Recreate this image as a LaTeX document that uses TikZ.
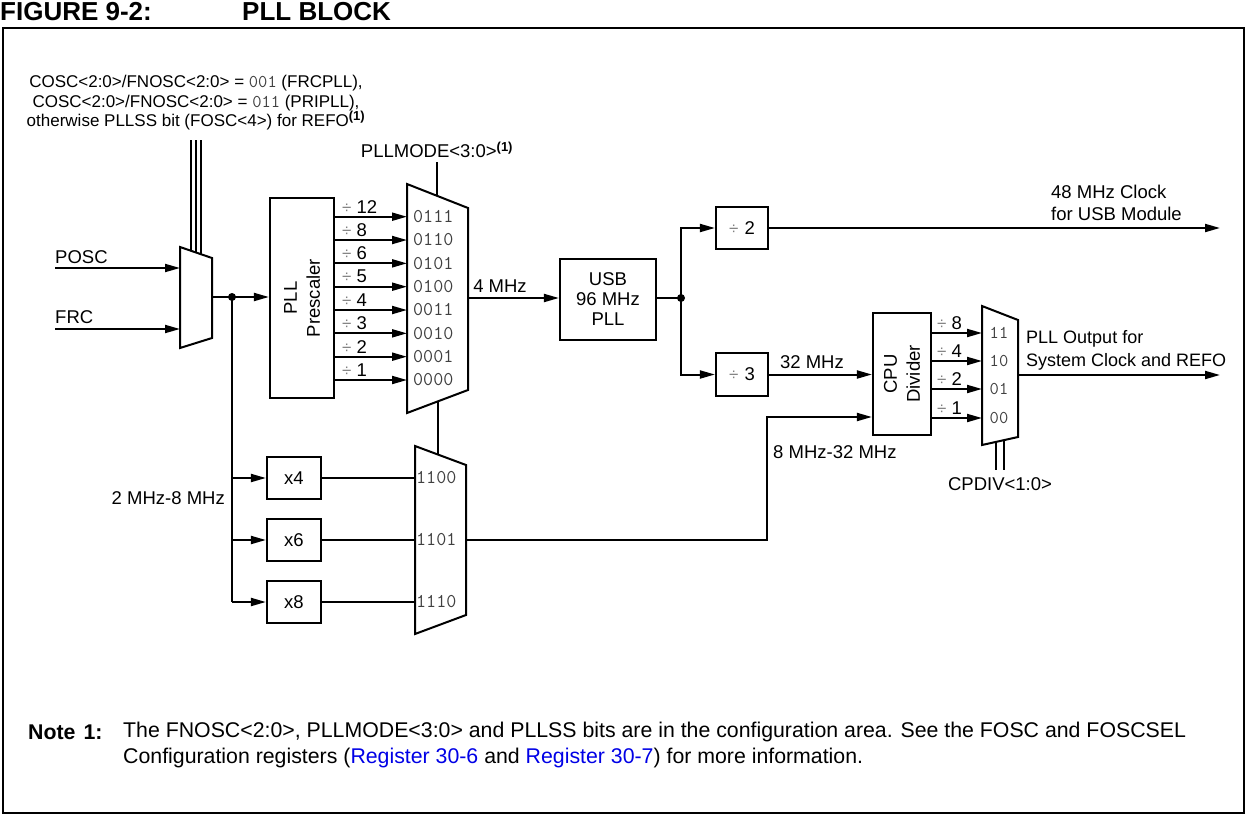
\documentclass[tikz,border=0pt]{standalone}
\usepackage{fontspec}
\setmainfont{Liberation Sans}
\usetikzlibrary{arrows.meta,calc}
\definecolor{linkblue}{RGB}{0,0,230}
\newcommand\dv{{\color{black!50}\fontsize{17}{17}\selectfont ÷}}
\newcommand\supone{\textsuperscript{\bfseries\fontsize{13}{13}\selectfont (1)}}
\begin{document}
\begin{tikzpicture}[x=1pt,y=-1pt,
  every node/.style={font=\fontsize{18.5}{22}\selectfont, inner sep=0pt},
  wire/.style={line width=2pt},
  arr/.style={wire,-{Triangle[length=15pt,width=8pt]}},
  blk/.style={draw,line width=2.2pt},
  mono/.style={font=\ttfamily\fontsize{19.5}{22}\selectfont, text=black!75},
  monos/.style={font=\ttfamily\fontsize{18}{22}\selectfont, text=black!75},
  muxs/.style={line width=2pt, line join=miter},
  notefont/.style={font=\fontsize{21.3}{26}\selectfont}
]
\useasboundingbox (0,0) rectangle (1248,816);
% frame and title
\draw[line width=2.5pt] (3,28) rectangle (1244,813);
\node[anchor=west,font=\bfseries\fontsize{26}{28}\selectfont] (title1) at (0,12) {FIGURE 9-2:};
\node[anchor=west,font=\bfseries\fontsize{26}{28}\selectfont] (title2) at (242,12) {PLL BLOCK};

% top select text
\node[align=center,font=\fontsize{17}{19.5}\selectfont] (seltext) at (196,103)
  {COSC<2:0>/FNOSC<2:0> = {\ttfamily\fontsize{18}{19.5}\selectfont\color{black!75}001} (FRCPLL),\\
   COSC<2:0>/FNOSC<2:0> = {\ttfamily\fontsize{18}{19.5}\selectfont\color{black!75}011} (PRIPLL),\\
   otherwise PLLSS bit (FOSC<4>) for REFO\supone};
\foreach \xx/\yy in {191/250.8,196/252.5,201/254.2}
  \draw[line width=1.8pt] (\xx,140) -- (\xx,\yy);

% input mux
\draw[muxs] (180,247) -- (212,258) -- (212,338) -- (180,348) -- cycle;
\coordinate (m1a) at (180,268);
\coordinate (m1b) at (180,329);
\coordinate (m1out) at (212,297);
\coordinate (posc) at (55,268);
\coordinate (frc) at (55,329);
\node[anchor=west] (posclab) at (55,257) {POSC};
\node[anchor=west] (frclab) at (55,317) {FRC};
\draw[arr] (posc) -- (m1a);
\draw[arr] (frc) -- (m1b);

% prescaler
\node[blk,minimum width=64pt,minimum height=200pt] (pre) at (302,298) {};
\node[rotate=90,align=center,font=\fontsize{18.5}{23}\selectfont] (pretext) at (pre.center) {PLL\\Prescaler};
\coordinate (dot0) at (232,297);
\draw[arr] (m1out) -- (m1out -| pre.west);
\fill (dot0) circle (4pt);

% PLLMODE mux
\draw[muxs] (407,184) -- (468,208) -- (468,390) -- (407,413) -- cycle;
\node (pllmode) at (437,150) {PLLMODE<3:0>\supone};
\draw[line width=2.5pt] (437,162) -- (437,195.8);
\foreach \lab/\code [count=\i from 0] in {12/0111,8/0110,6/0101,5/0100,4/0011,3/0010,2/0001,1/0000} {
  \pgfmathsetmacro\yy{216.7+23.33*\i}
  \draw[arr] (334,\yy) -- (407,\yy);
  \node[anchor=west] (pl\i) at (342,\yy-10) {\dv\hspace{5pt}\lab};
  \node[mono,anchor=west] (pc\i) at (413,\yy) {\code};
}
\coordinate (m2out) at (468,298);
\node (fourmhz) at (500,286) {4 MHz};

% USB PLL
\node[blk,minimum width=96pt,minimum height=81pt,align=center,font=\fontsize{18.5}{20}\selectfont] (usb) at (608,299.5) {USB\\96 MHz\\PLL};
\draw[arr] (m2out) -- (m2out -| usb.west);
\coordinate (dot1) at (681,298);
\draw[wire] (usb.east |- dot1) -- (dot1);
\fill (dot1) circle (4pt);

% dividers
\node[blk,minimum width=52pt,minimum height=42pt] (d2) at (742,228) {\dv\hspace{6pt}2};
\node[blk,minimum width=52pt,minimum height=43pt] (d3) at (742,374.5) {\dv\hspace{6pt}3};
\draw[arr] (dot1) |- (d2.west);
\draw[arr] (dot1) |- (d3.west);
\coordinate (usbout) at (1220,228);
\draw[arr] (d2.east) -- (usbout);
\node[anchor=west,align=left,font=\fontsize{18.5}{22}\selectfont] (usblab) at (1051,203) {48 MHz Clock\\for USB Module};

% CPU divider
\node[blk,minimum width=58pt,minimum height=122pt] (cpu) at (902,374) {};
\node[rotate=90,align=center,font=\fontsize{18.5}{23}\selectfont] (cputext) at (cpu.center) {CPU\\Divider};
\draw[arr] (d3.east) -- (d3.east -| cpu.west);
\node (thirtytwo) at (812,362) {32 MHz};

% CPU mux
\draw[muxs] (982,306) -- (1018,320) -- (1018,437) -- (982,445) -- cycle;
\foreach \lab/\code/\yy [count=\i] in {8/11/333,4/10/361,2/01/389,1/00/418} {
  \draw[arr] (931,\yy) -- (982,\yy);
  \node[anchor=west] (cl\i) at (937,\yy-10) {\dv\hspace{5pt}\lab};
  \node[monos] (cc\i) at (999,\yy) {\code};
}
\draw[line width=1.8pt] (996,441.9) -- (996,470);
\draw[line width=1.8pt] (1004,440.1) -- (1004,470);
\node (cpdiv) at (1000,484) {CPDIV<1:0>};
\coordinate (m4out) at (1018,375);
\coordinate (sysout) at (1220,375);
\draw[arr] (m4out) -- (sysout);
\node[anchor=west,align=left,font=\fontsize{18}{23}\selectfont] (syslab) at (1026,350) {PLL Output for\\System Clock and REFO};

% multiplier mux
\draw[muxs] (415,446) -- (466,465) -- (466,615) -- (415,634) -- cycle;
\draw[line width=2pt] (438,401) -- (438,455);
\node[blk,minimum width=54pt,minimum height=42pt] (x4) at (294,478) {x4};
\node[blk,minimum width=54pt,minimum height=42pt] (x6) at (294,540) {x6};
\node[blk,minimum width=54pt,minimum height=42pt] (x8) at (294,602) {x8};
\draw[wire] (dot0) -- (dot0 |- x8);
\foreach \b/\code in {x4/1100,x6/1101,x8/1110} {
  \draw[arr] (dot0 |- \b) -- (\b.west);
  \draw[wire] (\b.east) -- (\b.east -| 415,0);
  \node[mono,anchor=west] (mc\b) at ($(\b.east -| 416,0)$) {\code};
}
\node[anchor=east] (twoeight) at (225,498) {2 MHz-8 MHz};
\coordinate (m3out) at (466,540);
\coordinate (c8) at (767,417);
\draw[arr] (m3out) -| (c8) -- (c8 -| cpu.west);
\node[anchor=west] (eightlab) at (773,452) {8 MHz-32 MHz};

% note
\node[anchor=west,notefont,font=\bfseries\fontsize{21.3}{26}\selectfont] (notehd) at (28,732) {Note\hspace{8pt}1:};
\node[anchor=west,notefont] (note1) at (123,732) {The FNOSC<2:0>, PLLMODE<3:0> and PLLSS bits are in the configuration area. See the FOSC and FOSCSEL};
\node[anchor=west,notefont] (note2) at (123,758) {Configuration registers ({\color{linkblue}Register 30-6} and {\color{linkblue}Register 30-7}) for more information.};
\end{tikzpicture}
\end{document}
